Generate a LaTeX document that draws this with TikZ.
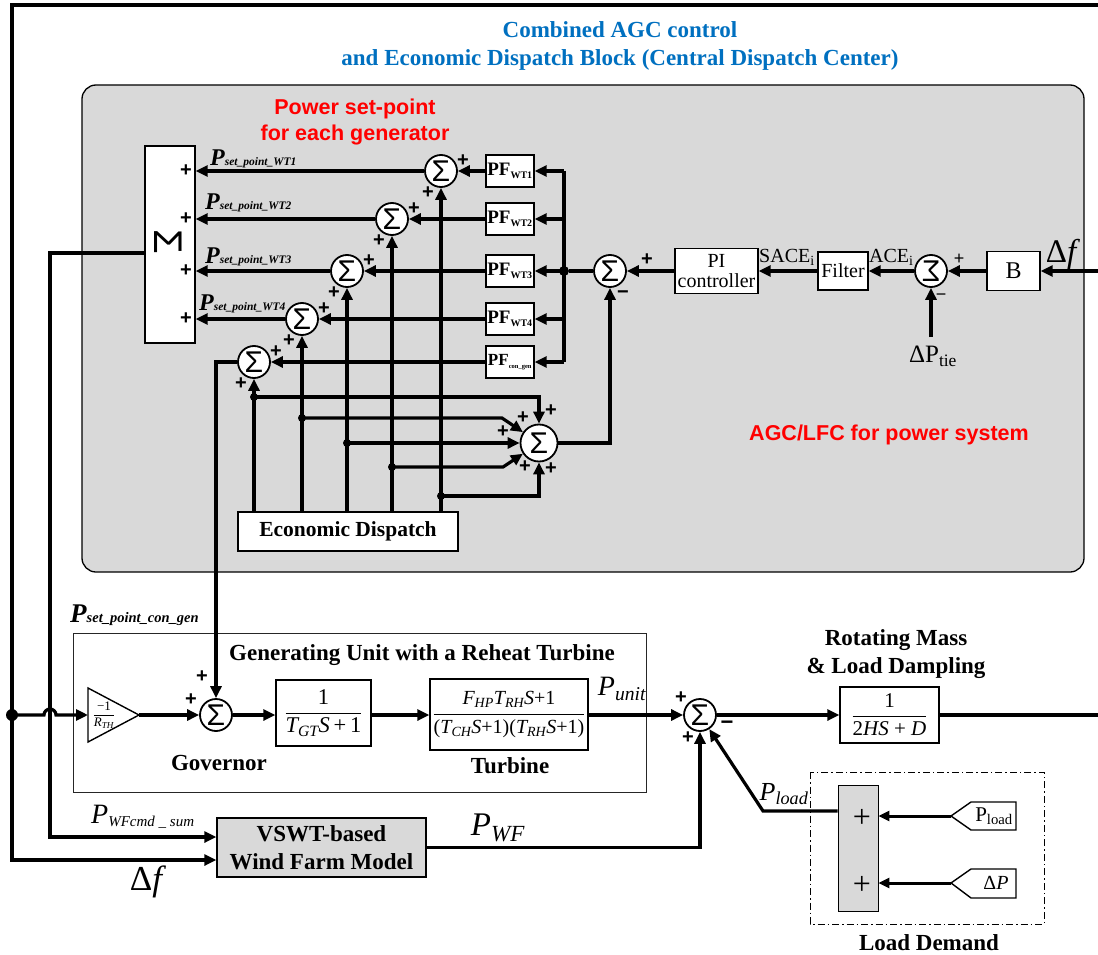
\documentclass[tikz,border=0pt]{standalone}
\usepackage{fontspec}
\setmainfont{Liberation Serif}
\newfontfamily\arialf{Liberation Sans}
\usetikzlibrary{arrows.meta,calc}
\definecolor{tblue}{RGB}{0,112,192}
\definecolor{bgray}{RGB}{217,217,217}
\newcommand{\fsz}[1]{\fontsize{#1}{#1}\selectfont}
\newcommand{\sbx}[1]{\textsubscript{#1}}
\newcommand{\psp}[1]{{\bfseries\itshape\fsz{24}P}{\bfseries\itshape\fsz{11.5}#1}}
\begin{document}
\begin{tikzpicture}[x=1pt,y=-1pt,
  sig/.style={line width=3.2pt},
  arr/.style={-{Triangle[length=12pt,width=11pt]}},
  sarr/.style={-{Triangle[length=11pt,width=10pt]}},
  blk/.style={draw,line width=1.4pt,fill=white,inner sep=1pt},
  sumn/.style={circle,draw,line width=1.8pt,fill=white,minimum size=32pt,inner sep=0pt,font=\arialf\fsz{30}},
  pls/.style={font=\arialf\bfseries\fsz{20},inner sep=0pt},
  jdot/.style={circle,fill,inner sep=0pt,minimum size=10pt},
  pfb/.style={blk,minimum width=48pt,minimum height=32pt,font=\bfseries\fsz{19}},
  lbl/.style={font=\bfseries\fontsize{23}{28}\selectfont,align=center,inner sep=0pt},
]
\useasboundingbox (0,0) rectangle (1098,955);
\fill[white] (0,0) rectangle (1098,955);
% gray area
\draw[line width=1.3pt,fill=bgray,rounded corners=14pt] (82,85) rectangle (1084,572);
% titles
\node[font=\bfseries\fontsize{23}{28}\selectfont,text=tblue,align=center] (title) at (620,46) {Combined AGC control\\and Economic Dispatch Block (Central Dispatch Center)};
\node[font=\arialf\bfseries\fontsize{21.5}{26}\selectfont,text=red,align=center] (pstitle) at (355,122) {Power set-point\\for each generator};
\node[font=\arialf\bfseries\fsz{21.5},text=red] (agcl) at (889,435) {AGC/LFC for power system};
% M box
\node[blk,minimum width=50pt,minimum height=197pt] (mbox) at (170,244.5) {};
\node[font=\arialf\fsz{40},rotate=-90,inner sep=0pt] (msig) at (168,242) {Σ};
% PF boxes
\node[pfb] (pf1) at (510,171) {PF\sbx{\fsz{10}WT1}};
\node[pfb] (pf2) at (510,219) {PF\sbx{\fsz{10}WT2}};
\node[pfb] (pf3) at (510,271) {PF\sbx{\fsz{10}WT3}};
\node[pfb] (pf4) at (510,319) {PF\sbx{\fsz{10}WT4}};
\node[pfb,font=\bfseries\fsz{17}] (pf5) at (510,362) {PF\sbx{\fsz{6.5}con\_gen}};
% sums
\node[sumn] (s1) at (441,171) {Σ};
\node[sumn] (s2) at (392,219) {Σ};
\node[sumn] (s3) at (347,271) {Σ};
\node[sumn] (s4) at (302,319) {Σ};
\node[sumn] (s5) at (254,362) {Σ};
% bus
\coordinate (b1) at (564,171);
\coordinate (b2) at (564,219);
\coordinate (b3) at (564,271);
\coordinate (b4) at (564,319);
\coordinate (b5) at (564,362);
\draw[sig] (b1) -- (b5);
\foreach \i in {1,...,5} {\draw[sig,arr] (b\i) -- (pf\i); \draw[sig,arr] (pf\i) -- (s\i);}
\foreach \i in {1,...,4} {\draw[sig,arr] (s\i) -- (s\i -| mbox.east);}
\node[jdot] (bdot) at (b3) {};
% plus signs at M box
\foreach \y in {171,219,271,319} {\node[pls] at (186,\y) {+};}
% plus signs at sums
\foreach \i in {1,...,5} {
  \node[pls] at ($(s\i)+(22,-10)$) {+};
  \node[pls] at ($(s\i)+(-13,22)$) {+};
}
% set-point labels
\node[anchor=base west,inner sep=0pt] (l1) at (210,165) {\psp{set\_point\_WT1}};
\node[anchor=base west,inner sep=0pt] (l2) at (205,209) {\psp{set\_point\_WT2}};
\node[anchor=base west,inner sep=0pt] (l3) at (205,263) {\psp{set\_point\_WT3}};
\node[anchor=base west,inner sep=0pt] (l4) at (199,310) {\psp{set\_point\_WT4}};
\node[anchor=base west,inner sep=0pt] (l5) at (70,622) {{\bfseries\itshape\fsz{27}P}{\bfseries\itshape\fsz{14.5}set\_point\_con\_gen}};
% PI chain
\node[sumn] (pis) at (610,271) {Σ};
\node[blk,minimum width=83pt,minimum height=45pt,align=center,font=\fontsize{20}{20}\selectfont] (pi) at (716.5,271) {PI\\controller};
\node[blk,minimum width=50pt,minimum height=38pt,font=\fsz{20}] (filt) at (843,271) {Filter};
\node[sumn] (aces) at (931,271) {\scalebox{-1}[1]{Σ}};
\node[blk,minimum width=53pt,minimum height=39pt,font=\fsz{24}] (bb) at (1013.5,271) {B};
\coordinate (dfr) at (1101,271);
\draw[sig,arr] (dfr) -- (bb);
\draw[sig,arr] (bb) -- (aces);
\draw[sig,arr] (aces) -- (filt);
\draw[sig,arr] (filt) -- (pi);
\draw[sig,arr] (pi) -- (pis);
\draw[sig] (pis) -- (bdot);
\node[font=\fsz{20},anchor=west,inner sep=0pt] (sace) at (759,257) {SACE\sbx{i}};
\node[font=\fsz{20},anchor=west,inner sep=0pt] (acel) at (869,257) {ACE\sbx{i}};
\node[pls] at (647,260) {+};
\node[pls] at (623,295) {−};
\node[font=\arialf\fsz{18},inner sep=0pt] at (959,259) {+};
\node[font=\arialf\fsz{18},inner sep=0pt] at (941,297) {−};
\coordinate (ptie) at (931,337);
\draw[sig,arr] (ptie) -- (aces);
\node[font=\fsz{25}] (ptl) at (933,356) {ΔP\sbx{tie}};
\node[font=\fsz{33}] (dfl) at (1063,254) {Δ\textit{f}};
% Economic dispatch and big sum
\node[blk,minimum width=220pt,minimum height=39pt,font=\bfseries\fsz{21.5}] (ed) at (348,531.5) {Economic Dispatch};
\node[sumn,minimum size=37pt,font=\arialf\fsz{30}] (bs) at (539,443) {Σ};
\foreach \i in {1,...,5} {\draw[sig,arr] (ed.north -| s\i) -- (s\i);}
\coordinate (d5) at (254,397);
\coordinate (d4) at (302,418);
\coordinate (d3) at (347,443);
\coordinate (d2) at (392,467);
\coordinate (d1) at (441,496);
\coordinate (k4) at (502,418);
\coordinate (k2) at (503,467);
\draw[sig,arr] (d5) -| (bs);
\draw[sig,arr] (d4) -- (k4) -- (bs);
\draw[sig,arr] (d3) -- (bs);
\draw[sig,arr] (d2) -- (k2) -- (bs);
\draw[sig,arr] (d1) -| (bs);
\foreach \i in {1,...,5} {\fill (d\i) circle (4);}
\coordinate (bso) at (610,443);
\draw[sig,arr] (bs) -- (bso) -- (pis);
\node[pls] at (551,411) {+};
\node[pls] at (523,418) {+};
\node[pls] at (503,432) {+};
\node[pls] at (525,467) {+};
\node[pls] at (551,469) {+};
% generating unit
\node[draw=black!85,line width=0.9pt,minimum width=573pt,minimum height=159pt] (gubox) at (359.5,712.5) {};
\node[lbl] (gut) at (422,655) {Generating Unit with a Reheat Turbine};
\coordinate (gin) at (88,715);
\coordinate (gout) at (139,715);
\draw[line width=1.4pt,fill=white] (88,688) -- (gout) -- (88,742) -- cycle;
\node[font=\fsz{13},inner sep=0pt] (gfrac) at (104,715) {$\displaystyle\frac{\mbox{−1}}{\mbox{\itshape R\sbx{TH}}}$};
\node[sumn] (gov) at (216,715) {Σ};
\draw[sig,arr] (s5) -- (216,362) -- (gov);
\node[pls] at (202,677) {+};
\node[pls] at (191,700) {+};
\draw[sig,arr] (gout) -- (gov);
\node[blk,minimum width=95pt,minimum height=66pt,font=\fsz{22.5}] (tf1) at (323.5,713) {$\displaystyle\frac{\mbox{1}}{\mbox{\itshape T\sbx{GT}S\upshape\,+\,1}}$};
\node[blk,minimum width=158pt,minimum height=71pt,font=\fsz{20}] (tf2) at (509,714.5) {$\displaystyle\frac{\mbox{\itshape F\sbx{HP}T\sbx{RH}S\upshape +1}}{\mbox{(\itshape T\sbx{CH}S\upshape +1)(\itshape T\sbx{RH}S\upshape +1)}}$};
\draw[sig,arr] (gov) -- (gov -| tf1.west);
\draw[sig,arr] (gov -| tf1.east) -- (gov -| tf2.west);
\node[lbl] (govl) at (219,763) {Governor};
\node[lbl] (turl) at (510,766) {Turbine};
\node[font=\fsz{28}] (punit) at (622,689) {\textit{P}\sbx{\itshape unit}};
\node[sumn] (ms) at (700,715) {Σ};
\draw[sig,arr] (tf2.east |- ms) -- (ms);
\node[pls] at (681,698) {+};
\node[pls,font=\arialf\bfseries\fsz{22}] at (727,725) {−};
\node[pls] at (688,738) {+};
\node[blk,minimum width=99pt,minimum height=56pt,font=\fsz{21}] (rm) at (889.5,715) {$\displaystyle\frac{\mbox{1}}{\mbox{2\itshape HS\upshape\ +\ \itshape D}}$};
\draw[sig,arr] (ms) -- (rm);
\node[lbl] (rml) at (896,654) {Rotating Mass\\\& Load Dampling};
% wind farm
\node[draw,line width=1.4pt,fill=bgray,minimum width=209pt,minimum height=59pt,align=center,font=\bfseries\fontsize{23}{28}\selectfont] (wf) at (321.5,847.5) {VSWT-based\\Wind Farm Model};
\draw[sig,arr] (wf) -| (ms);
\node[font=\fsz{33}] (pwf) at (498,828) {\textit{P}\sbx{\itshape WF}};
% feedback loop
\coordinate (r1) at (1102,715);
\coordinate (r2) at (1102,5);
\coordinate (l1c) at (12,5);
\coordinate (l2c) at (12,860);
\draw[sig,arr,line join=miter] (rm) -- (r1) -- (r2) -- (l1c) -- (l2c) -- (l2c -| wf.west);
\node[jdot,minimum size=12pt] (jl) at (12,715) {};
\draw[sig,arr] (jl.center) -- (44,715) arc (180:360:6) -- (gin);
\coordinate (c1) at (50,253);
\coordinate (c2) at (50,837);
\draw[sig,arr,line join=miter] (mbox.west |- c1) -- (c1) -- (c2) -- (c2 -| wf.west);
\node[anchor=base west,inner sep=0pt] (pwfc) at (91,823) {{\itshape\fsz{28}P}\raisebox{-3pt}{\itshape\fsz{15}WFcmd \_ sum}};
\node[font=\fsz{35}] (dfb) at (148,882) {Δ\textit{f}};
% load demand
\draw[line width=0.9pt,dash pattern=on 7pt off 3pt on 1.5pt off 3pt] (810,772) rectangle (1044,924);
\node[draw,line width=0.9pt,fill=bgray,minimum width=40pt,minimum height=126pt] (ld) at (858,848) {};
\node[font=\fsz{32},inner sep=0pt] at (862,818) {+};
\node[font=\fsz{32},inner sep=0pt] at (862,885) {+};
\coordinate (tg1) at (951,816);
\coordinate (tg2) at (951,883);
\draw[line width=1.4pt,fill=white] (tg1) -- (971,802) -- (1016,802) -- (1016,830) -- (971,830) -- cycle;
\draw[line width=1.4pt,fill=white] (tg2) -- (971,869) -- (1016,869) -- (1016,898) -- (971,898) -- cycle;
\node[font=\fsz{21}] (tgl1) at (994,816) {P\sbx{load}};
\node[font=\fsz{20}] (tgl2) at (996,883) {Δ\textit{P}};
\draw[line width=3pt,sarr] (tg1) -- (tg1 -| ld.east);
\draw[line width=3pt,sarr] (tg2) -- (tg2 -| ld.east);
\coordinate (plc) at (763,811);
\draw[sig,arr] (ld.west |- plc) -- (plc) -- (ms);
\node[font=\fsz{26}] (pll) at (784,794) {\textit{P}\sbx{\itshape load}};
\node[lbl] (ldl) at (929,943) {Load Demand};
\end{tikzpicture}
\end{document}
